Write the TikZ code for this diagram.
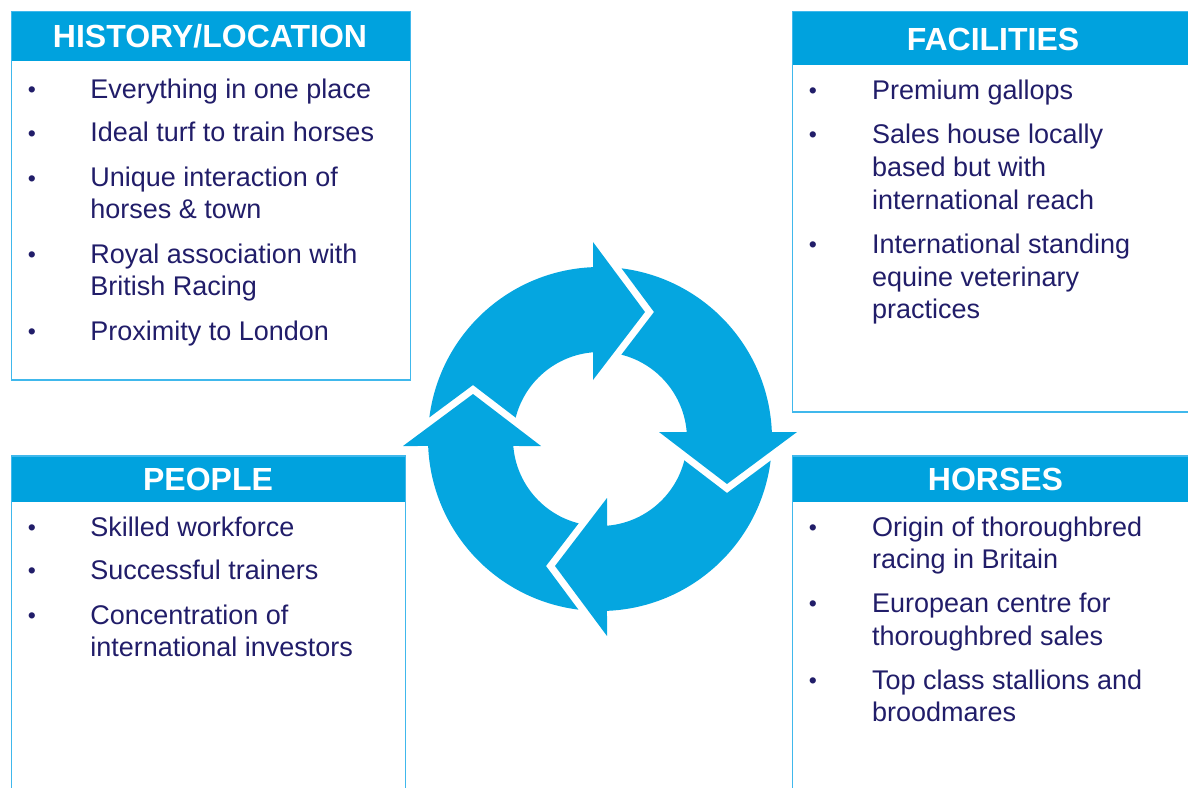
\documentclass[tikz,border=0pt]{standalone}
\usepackage{fontspec}
\setmainfont{Liberation Sans}
\definecolor{hdr}{RGB}{0,162,222}
\definecolor{brd}{RGB}{64,184,236}
\definecolor{arr}{RGB}{5,166,224}
\definecolor{txt}{RGB}{33,29,105}
\tikzset{
  boxframe/.style={draw=brd, line width=0.8pt},
  hdrbar/.style={fill=hdr},
  hdrtext/.style={anchor=base, text=white, font=\fontsize{16}{18}\selectfont\bfseries, inner sep=0pt},
  item/.style={anchor=base west, text=txt, font=\fontsize{13.5}{16}\selectfont, inner sep=0pt},
  bul/.style={anchor=base, text=txt, font=\fontsize{11.5}{14}\selectfont, inner sep=0pt},
  cyc/.style={fill=arr},
}
\begin{document}
\begin{tikzpicture}[x=0.5pt, y=-0.5pt]
\useasboundingbox (0,0) rectangle (1188,787);
\clip (0,0) rectangle (1188,787);

% ---- box 1: history/location
\fill[hdrbar] (11.5,11.5) rectangle (410.5,61);
\draw[boxframe] (11.5,11.5) rectangle (410.5,380);
\node[hdrtext] (h1) at (210,47.7) {HISTORY/LOCATION};
\foreach \n/\y in {a/97.5, b/141, c/186, d/262.5, e/339.3}
  \node[bul] (b1\n) at (32,\y) {•};
\node[item] (t1a) at (90,98.3) {Everything in one place};
\node[item] (t1b) at (90,141.7) {Ideal turf to train horses};
\node[item] (t1c) at (90,186.7) {Unique interaction of};
\node[item] (t1c2) at (90,218.3) {horses \& town};
\node[item] (t1d) at (90,263.3) {Royal association with};
\node[item] (t1d2) at (90,295) {British Racing};
\node[item] (t1e) at (90,340) {Proximity to London};

% ---- box 2: facilities
\fill[hdrbar] (792.3,11.5) rectangle (1195,65);
\draw[boxframe] (1195,11.5) -- (792.3,11.5) -- (792.3,411.7) -- (1195,411.7);
\node[hdrtext] (h2) at (993,50) {FACILITIES};
\foreach \n/\y in {a/98.5, b/142.5, c/252.5}
  \node[bul] (b2\n) at (813,\y) {•};
\node[item] (t2a) at (871.7,99.3) {Premium gallops};
\node[item] (t2b) at (871.7,143.3) {Sales house locally};
\node[item] (t2b2) at (871.7,176) {based but with};
\node[item] (t2b3) at (871.7,209.3) {international reach};
\node[item] (t2c) at (871.7,253.3) {International standing};
\node[item] (t2c2) at (871.7,286) {equine veterinary};
\node[item] (t2c3) at (871.7,318.3) {practices};

% ---- box 3: people
\fill[hdrbar] (11.5,456) rectangle (405.5,502);
\draw[boxframe] (11.5,795) -- (11.5,456) -- (405.5,456) -- (405.5,795);
\node[hdrtext] (h3) at (208,490.7) {PEOPLE};
\foreach \n/\y in {a/535.2, b/578.5, c/623.2}
  \node[bul] (b3\n) at (32,\y) {•};
\node[item] (t3a) at (90,536) {Skilled workforce};
\node[item] (t3b) at (90,579.3) {Successful trainers};
\node[item] (t3c) at (90,624) {Concentration of};
\node[item] (t3c2) at (90,656) {international investors};

% ---- box 4: horses
\fill[hdrbar] (792.3,456) rectangle (1195,502);
\draw[boxframe] (792.3,795) -- (792.3,456) -- (1195,456);
\node[hdrtext] (h4) at (995.5,490.7) {HORSES};
\foreach \n/\y in {a/535.2, b/611.9, c/688.5}
  \node[bul] (b4\n) at (813,\y) {•};
\node[item] (t4a) at (871.7,536) {Origin of thoroughbred};
\node[item] (t4a2) at (871.7,568) {racing in Britain};
\node[item] (t4b) at (871.7,612.7) {European centre for};
\node[item] (t4b2) at (871.7,645) {thoroughbred sales};
\node[item] (t4c) at (871.7,689.3) {Top class stallions and};
\node[item] (t4c2) at (871.7,721.7) {broodmares};

% ---- cycle of four arrows
\begin{scope}[shift={(600,439)}, yscale=-1]
  \foreach \r in {0,-90,-180,-270} {
    \begin{scope}[rotate=\r]
      \fill[cyc] (172.79:172) arc[start angle=172.79, end angle=92.33, radius=172]
        -- (-7,197) -- (45,127) -- (-7,59) -- (94.61:87)
        arc[start angle=94.61, end angle=165.78, radius=87]
        -- (-127,54) -- cycle;
    \end{scope}
  }
\end{scope}
\end{tikzpicture}
\end{document}
